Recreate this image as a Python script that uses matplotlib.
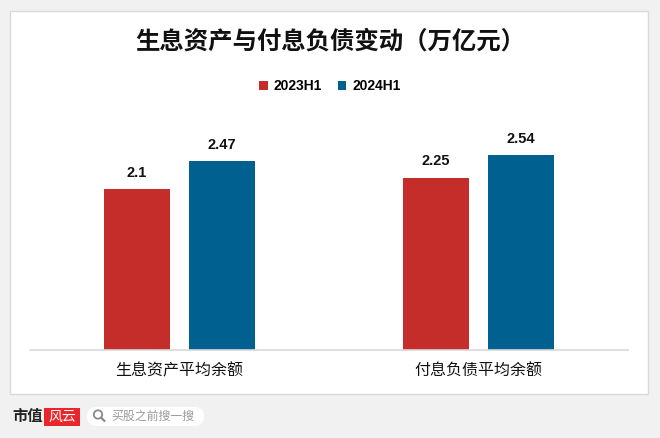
import matplotlib.pyplot as plt
from matplotlib.patches import FancyBboxPatch, Rectangle, Circle
import numpy as np

plt.rcParams['font.family'] = ['Noto Sans CJK SC', 'DejaVu Sans']

# --- data ---
categories = ["生息资产平均余额", "付息负债平均余额"]
series_names = ["2023H1", "2024H1"]
values_2023 = [2.1, 2.25]
values_2024 = [2.47, 2.54]
colors = ["#c52d2b", "#006191"]

fig = plt.figure(figsize=(6.6, 4.38), dpi=100)
fig.patch.set_facecolor("#f1f1f1")

# background layer in pixel coordinates: card + footer
bg = fig.add_axes([0, 0, 1, 1], zorder=-5)
bg.set_xlim(0, 660)
bg.set_ylim(438, 0)
bg.axis("off")
bg.add_patch(Rectangle((10, 11), 638, 383, facecolor="white",
                       edgecolor="#d9d9d9", linewidth=1))

# footer: logo + search box
bg.text(12, 416, "市值", ha="left", va="center", fontsize=11,
        fontweight="bold", color="#222222")
bg.add_patch(Rectangle((44, 408), 36, 18, facecolor="#e8262b",
                       edgecolor="none"))
bg.text(62, 416.5, "风云", ha="center", va="center", fontsize=10,
        fontstyle="italic", color="white")
bg.add_patch(FancyBboxPatch((87, 407), 117, 19,
                            boxstyle="round,pad=0,rounding_size=9.5",
                            facecolor="white", edgecolor="none"))
bg.add_patch(Circle((98, 414.5), 4.2, facecolor="none",
                    edgecolor="#8a8a8a", linewidth=1.3))
bg.plot([101.2, 104.5], [417.7, 421], color="#8a8a8a", linewidth=1.6,
        solid_capstyle="round")
bg.text(111, 416.5, "买股之前搜一搜", ha="left", va="center",
        fontsize=8.6, color="#9a9a9a")

# --- chart ---
ax = fig.add_axes([30 / 660, 1 - 350 / 438, 598 / 660, 230 / 438])
ax.set_facecolor("none")

x = np.arange(len(categories))
w = 0.222
off = 0.142
b1 = ax.bar(x - off, values_2023, w, color=colors[0], label=series_names[0])
b2 = ax.bar(x + off, values_2024, w, color=colors[1], label=series_names[1])

for bars in (b1, b2):
    for rect in bars:
        h = rect.get_height()
        ax.annotate(f"{h:g}", (rect.get_x() + rect.get_width() / 2, h),
                    xytext=(0, 6.5), textcoords="offset points",
                    ha="center", va="bottom", fontsize=10.5,
                    fontweight="bold", color="#111111",
                    family=["Liberation Sans"])

ax.set_xlim(-0.5, 1.5)
ax.set_ylim(0, 3)
ax.set_yticks([])
ax.set_xticks(x)
ax.set_xticklabels(categories, fontsize=11.5, color="#111111")
ax.tick_params(axis="x", length=0, pad=9)
for s in ["top", "right", "left"]:
    ax.spines[s].set_visible(False)
ax.spines["bottom"].set_color("#d9d9d9")
ax.spines["bottom"].set_linewidth(1.2)

fig.text(0.5, 1 - 42 / 438, "生息资产与付息负债变动（万亿元）", ha="center",
         va="center", fontsize=17.6, fontweight="bold", color="#111111")

leg = fig.legend(handles=[b1, b2], labels=series_names, loc="center",
                 bbox_to_anchor=(0.5, 1 - 86 / 438), ncol=2, frameon=False,
                 handlelength=0.6, handleheight=0.6, handletextpad=0.45,
                 columnspacing=1.1,
                 prop={"family": "Liberation Sans", "weight": "bold",
                       "size": 10})

fig.savefig("out.png", dpi=100, facecolor=fig.get_facecolor())
